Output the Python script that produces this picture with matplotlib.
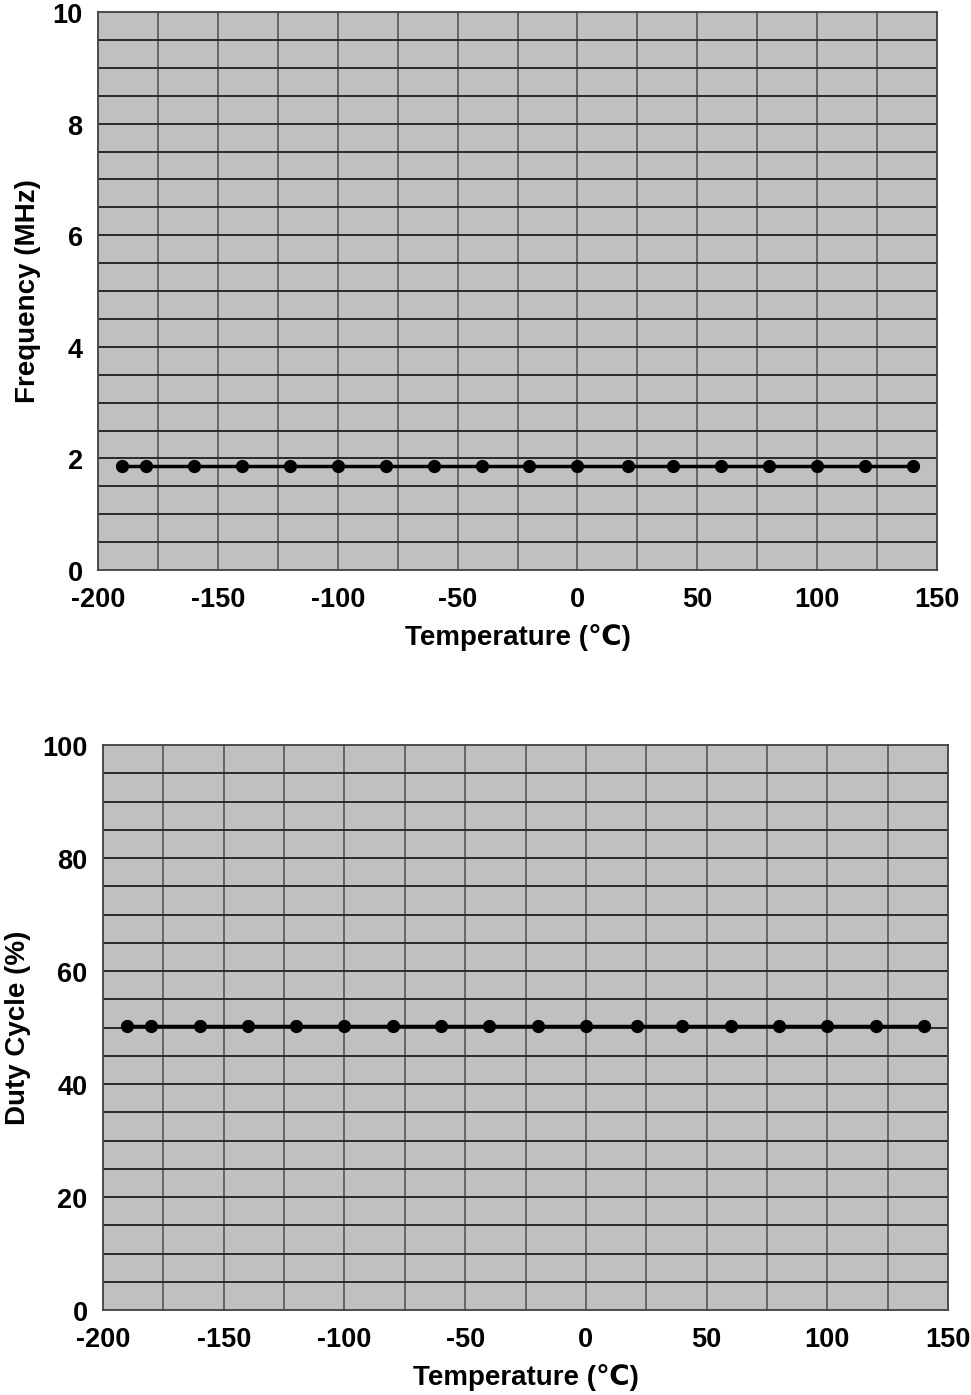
import numpy as np
import matplotlib
matplotlib.use("Agg")
import matplotlib.pyplot as plt
from matplotlib.transforms import ScaledTranslation

plt.rcParams['font.family'] = ['Liberation Sans', 'DejaVu Sans']
plt.rcParams['font.weight'] = 'bold'
plt.rcParams['axes.unicode_minus'] = False

# temperatures (deg C) and measured values
temp = [-190, -180, -160, -140, -120, -100, -80, -60, -40, -20, 0, 21, 40, 60, 80, 100, 120, 140]
freq = [1.86] * len(temp)   # MHz
duty = [50.2] * len(temp)   # %

fig = plt.figure(figsize=(9.71, 13.95), dpi=100)
W, H = 971, 1395

def make_ax(left, top, right, bottom):
    return fig.add_axes([left / W, 1 - bottom / H, (right - left) / W, (bottom - top) / H])

ax1 = make_ax(98, 12, 937, 570)
ax2 = make_ax(103, 745, 948, 1310)

panels = [
    (ax1, freq, 10, 0.5, 2, 'Frequency (MHz)'),
    (ax2, duty, 100, 5, 20, 'Duty Cycle (%)'),
]

for ax, vals, ymax, ystep, ylab_step, ylabel in panels:
    ax.set_facecolor('#c0c0c0')
    ax.set_xlim(-200, 150)
    ax.set_ylim(0, ymax)
    # grid
    for x in np.arange(-175, 150, 25):
        ax.axvline(x, color='#5e5e5e', lw=1.3, zorder=1)
    for y in np.arange(ystep, ymax, ystep):
        ax.axhline(y, color='#2a2a2a', lw=1.4, zorder=1)
    ax.plot(temp, vals, color='black', lw=2.5, marker='o', markersize=8.5, zorder=3)
    ax.set_xticks(np.arange(-200, 151, 50))
    ax.set_yticks(np.arange(0, ymax + 0.1, ylab_step))
    ax.set_yticklabels([f'{v:g}' for v in np.arange(0, ymax + 0.1, ylab_step)])
    ax.tick_params(length=0, labelsize=19.5)
    ax.tick_params(axis='x', pad=12)
    ax.tick_params(axis='y', pad=11)
    shift = ScaledTranslation(0, -1 / 100, fig.dpi_scale_trans)
    for lab in ax.get_yticklabels():
        lab.set_transform(lab.get_transform() + shift)
    for lab in ax.get_xticklabels() + ax.get_yticklabels():
        lab.set_fontweight('bold')
    ax.set_xlabel('Temperature (℃)', fontsize=20, fontweight='bold', labelpad=8)
    ax.set_ylabel(ylabel, fontsize=20, fontweight='bold', labelpad=8)
    for s in ax.spines.values():
        s.set_color('#404040')
        s.set_linewidth(1.3)

fig.savefig('out.png', dpi=100)
